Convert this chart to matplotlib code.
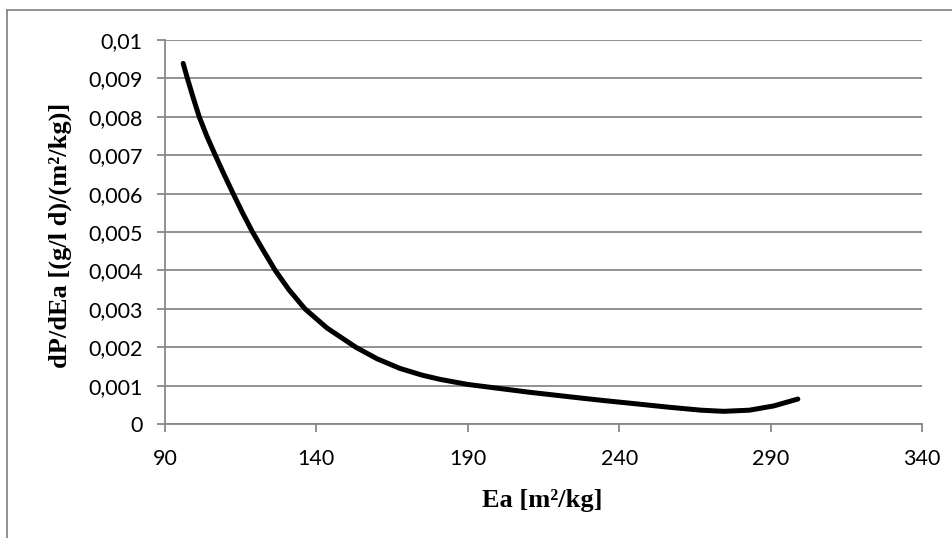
import matplotlib
matplotlib.use('Agg')
import matplotlib.pyplot as plt
from matplotlib.lines import Line2D

# %% data
ea = [96, 97.4, 99.3, 101.3, 103.8, 106.6, 109.5, 112.5, 115.6, 118.9, 122.6,
      126.4, 130.9, 136.2, 143.5, 153, 160, 167.5, 175, 181, 190, 196,
      203, 210, 219, 228, 235, 245, 256, 267, 274.5, 283, 291, 299]
dp_dea = [0.00939, 0.0090, 0.0085, 0.0080, 0.0075, 0.0070, 0.0065, 0.0060,
          0.0055, 0.0050, 0.0045, 0.0040, 0.0035, 0.0030, 0.0025, 0.0020,
          0.00170, 0.00145, 0.00127, 0.00116, 0.00103, 0.00097,
          0.00090, 0.00083, 0.00075, 0.00067, 0.00061, 0.00053, 0.00044,
          0.00036, 0.00033, 0.00036, 0.00047, 0.00065]

x_ticks = [90, 140, 190, 240, 290, 340]
y_ticks = [0, 0.001, 0.002, 0.003, 0.004, 0.005, 0.006, 0.007, 0.008, 0.009, 0.01]
y_tick_labels = ['0', '0,001', '0,002', '0,003', '0,004', '0,005',
                 '0,006', '0,007', '0,008', '0,009', '0,01']

x_label = 'Ea [m²/kg]'
y_label = 'dP/dEa [(g/l d)/(m²/kg)]'

# %% figure
W, H = 953, 538
grey = '#888888'
fig = plt.figure(figsize=(W / 100, H / 100), dpi=100)
ax = fig.add_axes([165 / W, 1 - 424 / H, (922 - 165) / W, (424 - 40) / H])

ax.plot(ea, dp_dea, color='black', lw=3.6, solid_capstyle='round',
        solid_joinstyle='round', zorder=3)

ax.set_xlim(90, 340)
ax.set_ylim(0, 0.01)
ax.set_xticks(x_ticks)
ax.set_xticklabels([str(t) for t in x_ticks])
ax.set_yticks(y_ticks)
ax.set_yticklabels(y_tick_labels)

ax.grid(axis='y', color=grey, lw=1.3)
ax.set_axisbelow(True)
for s in ['top', 'right']:
    ax.spines[s].set_visible(False)
for s in ['left', 'bottom']:
    ax.spines[s].set_color(grey)
    ax.spines[s].set_linewidth(1.3)

ax.tick_params(axis='both', direction='out', length=6, width=1.3, color=grey,
               labelsize=15.5, labelcolor='black')
ax.tick_params(axis='y', pad=10)
ax.tick_params(axis='x', pad=12)
for lab in ax.get_xticklabels() + ax.get_yticklabels():
    lab.set_family('Lato')

fig.text(542 / W, 1 - 500 / H, x_label, ha='center', va='center',
         family='Liberation Serif', weight='bold', fontsize=19)
fig.text(60 / W, 1 - 235 / H, y_label, ha='center', va='center', rotation=90,
         family='Liberation Serif', weight='bold', fontsize=19)

# outer chart frame (cut off at right and bottom)
fig.add_artist(Line2D([7 / W, 1.01], [1 - 10 / H, 1 - 10 / H], color=grey, lw=1.3))
fig.add_artist(Line2D([7 / W, 7 / W], [1 - 10 / H, -0.01], color=grey, lw=1.3))

fig.savefig('out.png', dpi=100)
